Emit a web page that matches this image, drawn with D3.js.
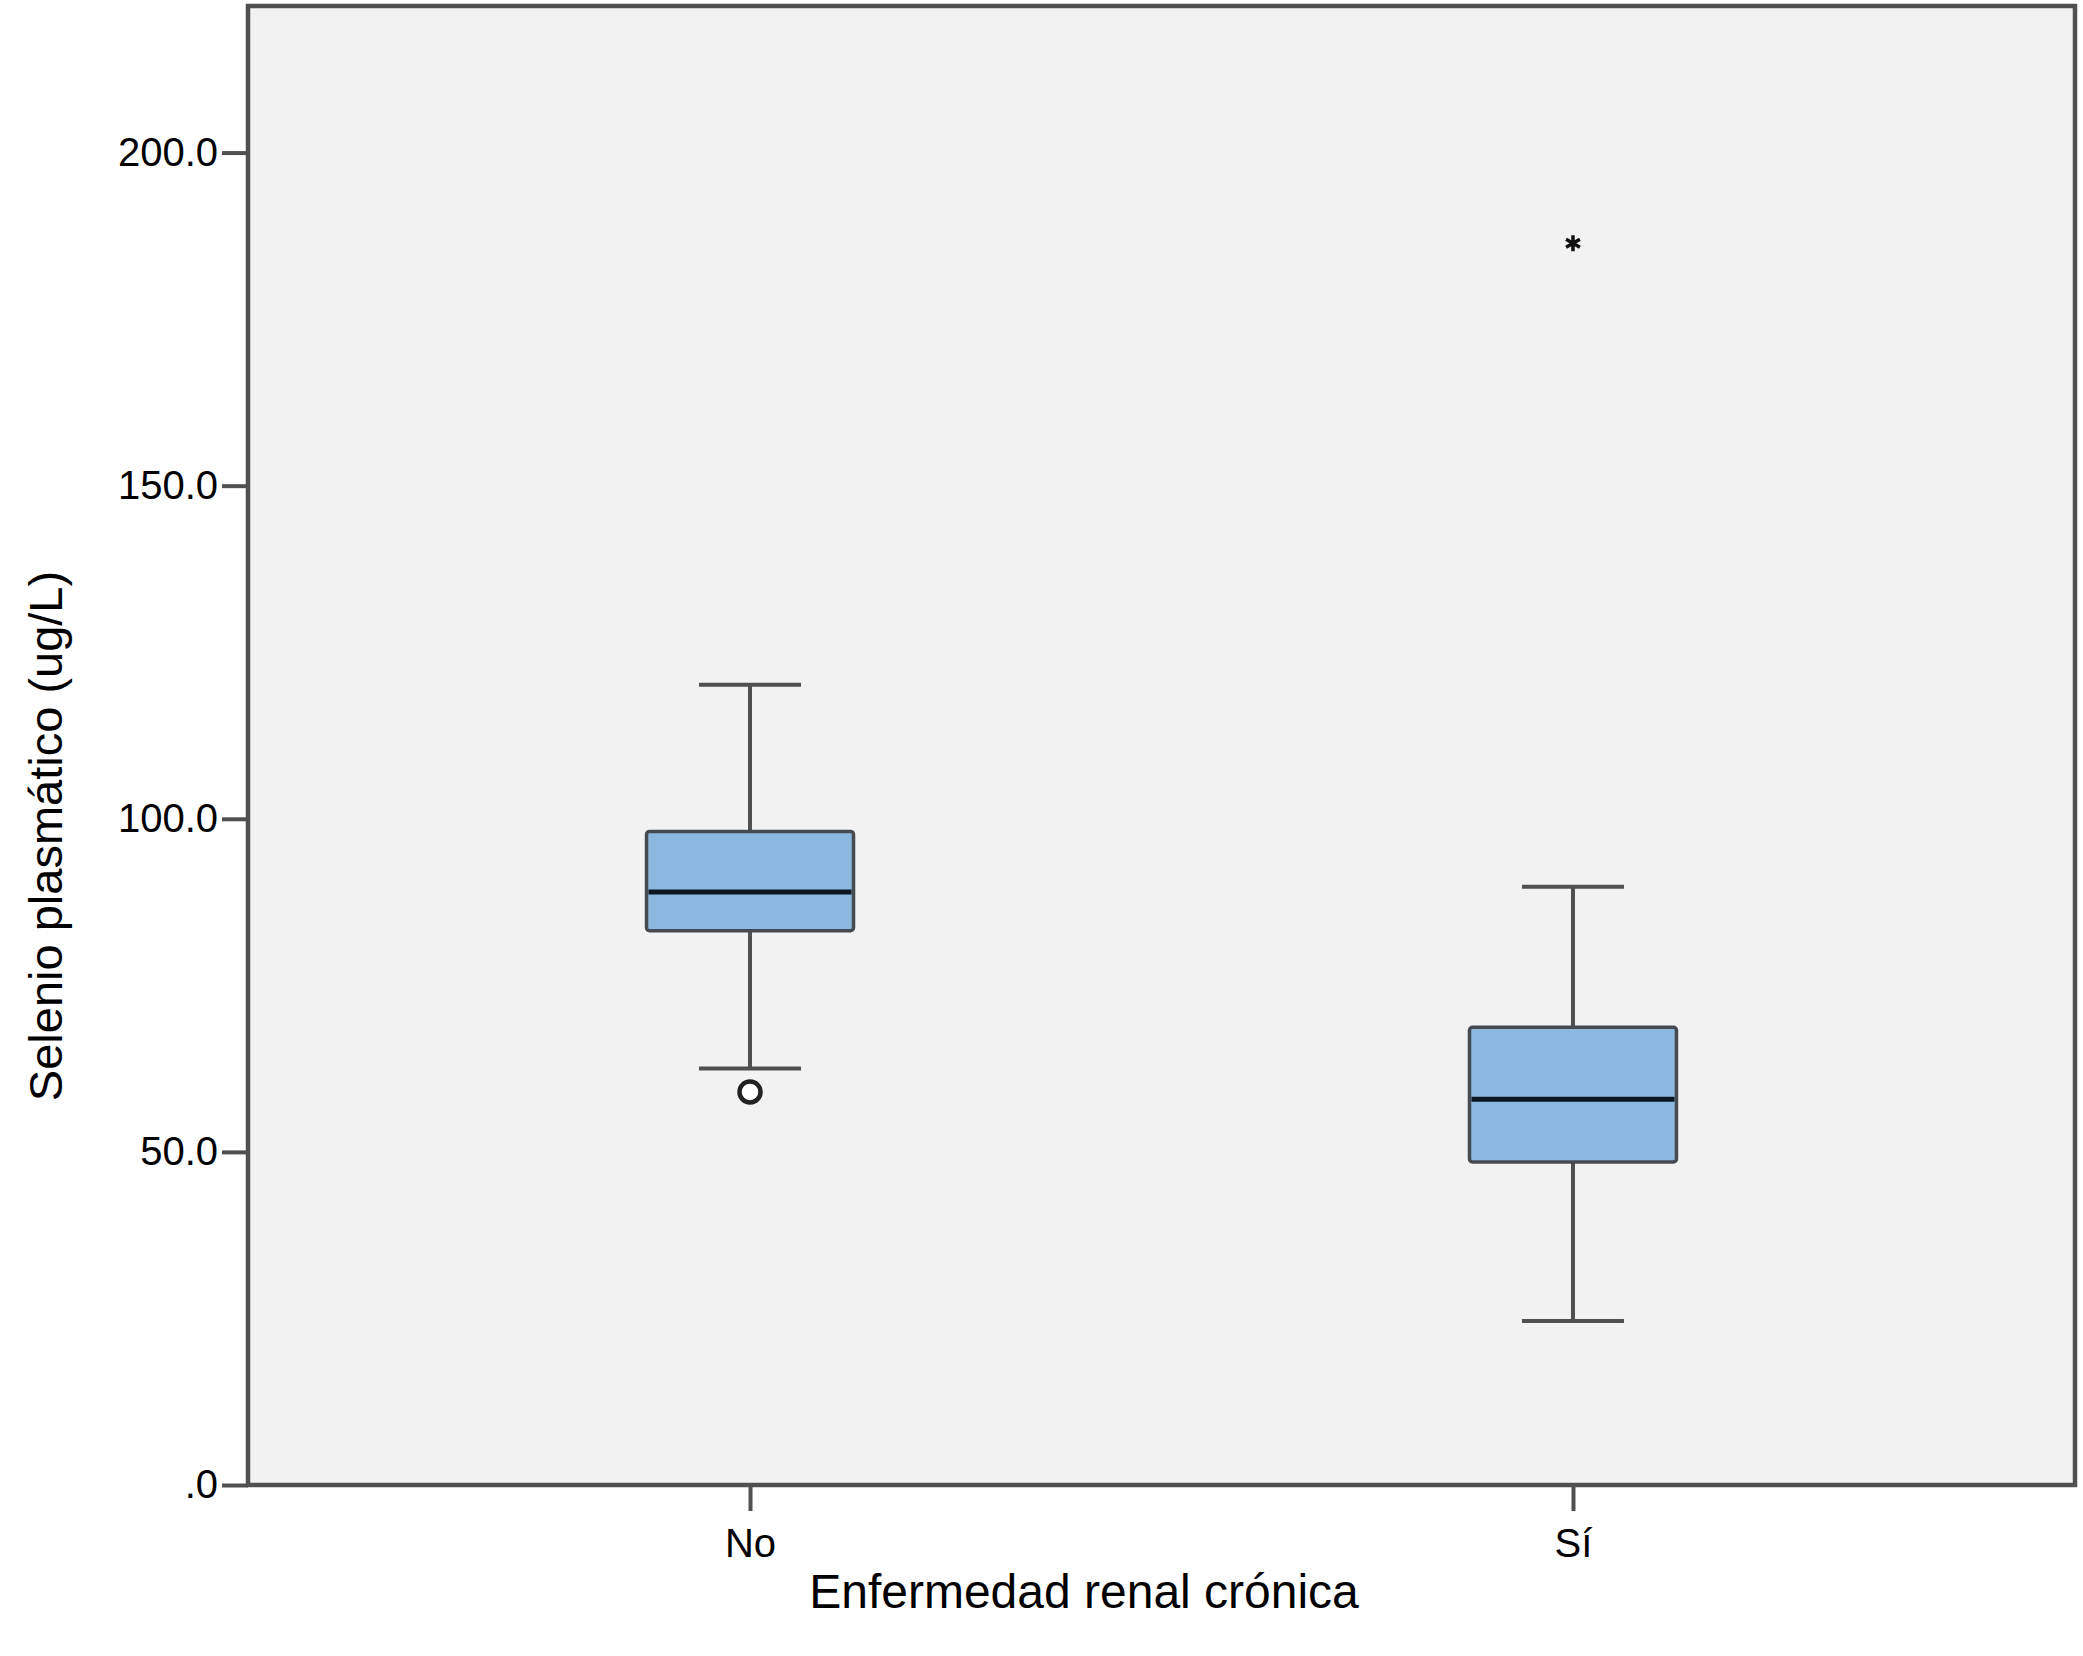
<!DOCTYPE html>
<html>
<head>
<meta charset="utf-8">
<script src="https://cdn.jsdelivr.net/npm/d3@7"></script>
<style>
body{margin:0;background:#fff;}
text{font-family:"Liberation Sans",Arial,Helvetica,sans-serif;fill:#000;}
</style>
</head>
<body>
<div id="chart"></div>
<script>
(function(){
var width = 2083,
	height = 1656,
	margin = {top:6,right:8,bottom:171,left:248};

// data
var groups = ["No","Sí"];
var whiskerLow  = [62.5, 24.6];
var q1          = [83.2, 48.5];
var median      = [89.0, 57.9];
var q3          = [98.1, 68.7];
var whiskerHigh = [120.1, 89.8];
var outliers = [{group:"No", value:59.0}];
var extremes = [{group:"Sí", value:186.4}];
var yTicks = [0,50,100,150,200];

var boxes = groups.map(function(g,i){
	return {group:g, lo:whiskerLow[i], q1:q1[i], med:median[i], q3:q3[i], hi:whiskerHigh[i]};
});

var iw = width-margin.left-margin.right,
	ih = height-margin.top-margin.bottom;

var X = d3.scalePoint().domain(groups).range([0,iw]).padding(0.61);
var Y = d3.scaleLinear().domain([0,222]).range([ih,0]);

var boxW = 207, capW = 102;

var svg = d3.select("#chart").append("svg")
	.attr("width",width)
	.attr("height",height);

var g = svg.append("g").attr("transform","translate("+margin.left+","+margin.top+")");

g.append("rect").attr("width",iw).attr("height",ih).attr("fill","#f2f2f2");

var yAxis = g.append("g").attr("class","y axis")
	.call(d3.axisLeft(Y).tickValues(yTicks).tickSize(26).tickPadding(4)
		.tickFormat(function(d){ return d===0 ? ".0" : d.toFixed(1); }));
var xAxis = g.append("g").attr("class","x axis").attr("transform","translate(0,"+ih+")")
	.call(d3.axisBottom(X).tickSize(26).tickPadding(18));

[yAxis,xAxis].forEach(function(a){
	a.select(".domain").remove();
	a.selectAll(".tick line").attr("stroke","#505050").attr("stroke-width",4);
	a.selectAll(".tick text").attr("font-size",40).attr("fill","#000")
		.style("font-family","'Liberation Sans',Arial,sans-serif");
});

var bx = g.selectAll(".box").data(boxes).enter().append("g")
	.attr("class","box")
	.attr("transform",function(d){ return "translate("+X(d.group)+",0)"; });

// whiskers
bx.append("line").attr("x1",0).attr("x2",0)
	.attr("y1",function(d){ return Y(d.hi); }).attr("y2",function(d){ return Y(d.lo); })
	.attr("stroke","#505050").attr("stroke-width",4);
bx.append("line").attr("x1",-capW/2).attr("x2",capW/2)
	.attr("y1",function(d){ return Y(d.hi); }).attr("y2",function(d){ return Y(d.hi); })
	.attr("stroke","#505050").attr("stroke-width",4);
bx.append("line").attr("x1",-capW/2).attr("x2",capW/2)
	.attr("y1",function(d){ return Y(d.lo); }).attr("y2",function(d){ return Y(d.lo); })
	.attr("stroke","#505050").attr("stroke-width",4);

bx.append("rect")
	.attr("x",-boxW/2).attr("width",boxW)
	.attr("y",function(d){ return Y(d.q3); })
	.attr("height",function(d){ return Y(d.q1)-Y(d.q3); })
	.attr("rx",3)
	.attr("fill","#8cb7de").attr("stroke","#464b52").attr("stroke-width",3.5);

bx.append("line").attr("x1",-boxW/2+2).attr("x2",boxW/2-2)
	.attr("y1",function(d){ return Y(d.med); }).attr("y2",function(d){ return Y(d.med); })
	.attr("stroke","#0b1621").attr("stroke-width",5);

g.selectAll(".outlier").data(outliers).enter().append("circle")
	.attr("class","outlier")
	.attr("cx",function(d){ return X(d.group); })
	.attr("cy",function(d){ return Y(d.value); })
	.attr("r",10.5)
	.attr("fill","#fff").attr("stroke","#222").attr("stroke-width",4.5);

g.selectAll(".extreme").data(extremes).enter().append("path")
	.attr("class","extreme")
	.attr("transform",function(d){ return "translate("+X(d.group)+","+Y(d.value)+")"; })
	.attr("d",d3.symbol().type(d3.symbolAsterisk).size(180))
	.attr("fill","none").attr("stroke","#111").attr("stroke-width",3.5);

// frame
g.append("rect").attr("width",iw).attr("height",ih)
	.attr("fill","none").attr("stroke","#505050").attr("stroke-width",4.5);

svg.append("text")
	.attr("transform","translate(62,836) rotate(-90)")
	.attr("text-anchor","middle")
	.attr("font-size",47)
	.text("Selenio plasmático (ug/L)");

svg.append("text")
	.attr("x",1084).attr("y",1608)
	.attr("text-anchor","middle")
	.attr("font-size",48)
	.text("Enfermedad renal crónica");
})()
</script>
</body>
</html>
